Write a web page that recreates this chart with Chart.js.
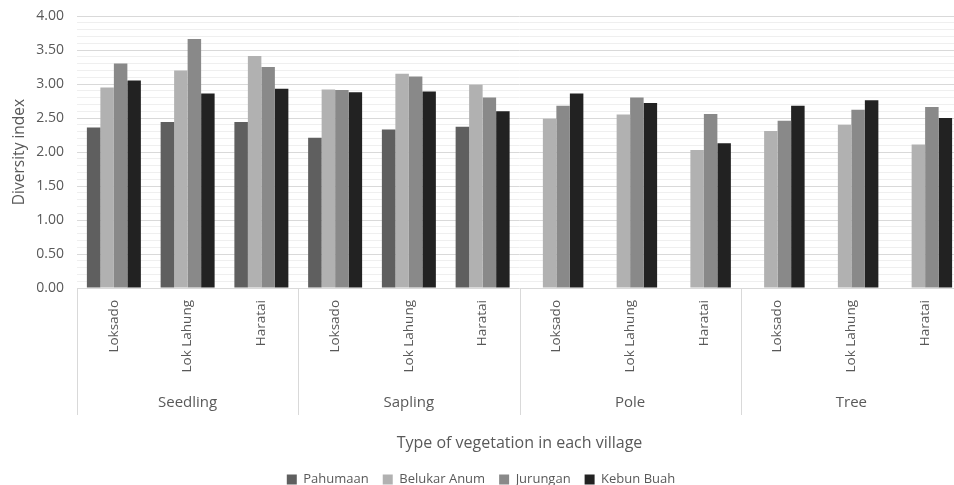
<!DOCTYPE html>
<html>
<head>
<meta charset="utf-8">
<script src="https://cdn.jsdelivr.net/npm/chart.js@4/dist/chart.umd.min.js"></script>
<style>
  html, body { margin: 0; padding: 0; background: #fff; overflow: hidden; }
  #wrap { width: 954px; height: 485px; overflow: hidden; position: relative; }
  canvas { display: block; }
</style>
</head>
<body>
<div id="wrap"><canvas id="c" width="965" height="496"></canvas></div>
<script>
const villages = ['Loksado', 'Lok Lahung', 'Haratai',
                  'Loksado', 'Lok Lahung', 'Haratai',
                  'Loksado', 'Lok Lahung', 'Haratai',
                  'Loksado', 'Lok Lahung', 'Haratai'];
const groups = ['Seedling', 'Sapling', 'Pole', 'Tree'];
const seriesNames = ['Pahumaan', 'Belukar Anum', 'Jurungan', 'Kebun Buah'];
const pahumaan    = [2.36, 2.44, 2.44, 2.21, 2.33, 2.37, null, null, null, null, null, null];
const belukarAnum = [2.95, 3.20, 3.41, 2.92, 3.15, 2.99, 2.49, 2.55, 2.03, 2.31, 2.40, 2.11];
const jurungan    = [3.30, 3.66, 3.25, 2.91, 3.11, 2.80, 2.68, 2.80, 2.56, 2.46, 2.62, 2.66];
const kebunBuah   = [3.05, 2.86, 2.93, 2.88, 2.89, 2.60, 2.86, 2.72, 2.13, 2.68, 2.76, 2.50];
const colors = ['#5f5f5f', '#b1b1b1', '#898989', '#222222'];

const textColor = '#595959';
const fontFam = '"Open Sans", "Noto Sans", sans-serif';

const separatorPlugin = {
  id: 'groupSeparators',
  afterDraw(chart) {
    const xs = chart.scales.x, x2 = chart.scales.x2;
    const ctx = chart.ctx;
    const n = xs.getLabels().length;
    const cw = (xs.getPixelForValue(1) - xs.getPixelForValue(0));
    const per = n / groups.length;
    ctx.save();
    ctx.strokeStyle = '#d9d9d9';
    ctx.lineWidth = 1;
    for (let g = 0; g <= groups.length; g++) {
      const idx = g * per;
      let px = idx < n ? xs.getPixelForValue(idx) - cw / 2 : xs.getPixelForValue(n - 1) + cw / 2;
      px = Math.round(px) + 0.5;
      ctx.beginPath();
      ctx.moveTo(px, xs.top);
      ctx.lineTo(px, x2.top + 33);
      ctx.stroke();
    }
    ctx.restore();
  }
};

new Chart(document.getElementById('c'), {
  type: 'bar',
  data: {
    labels: villages,
    datasets: [
      { label: seriesNames[0], data: pahumaan, backgroundColor: colors[0] },
      { label: seriesNames[1], data: belukarAnum, backgroundColor: colors[1] },
      { label: seriesNames[2], data: jurungan, backgroundColor: colors[2] },
      { label: seriesNames[3], data: kebunBuah, backgroundColor: colors[3] }
    ]
  },
  options: {
    responsive: false,
    animation: false,
    events: [],
    layout: { padding: { top: 16, right: 3, left: 0, bottom: 0 } },
    datasets: { bar: { categoryPercentage: 0.732, barPercentage: 1.0 } },
    plugins: {
      tooltip: { enabled: false },
      legend: {
        position: 'bottom',
        labels: {
          color: textColor,
          font: { family: fontFam, size: 13 },
          boxWidth: 10,
          boxHeight: 10,
          padding: 14
        }
      }
    },
    scales: {
      x: {
        type: 'category',
        position: 'bottom',
        weight: 0,
        grid: { display: false },
        border: { display: false },
        ticks: {
          color: textColor,
          font: { family: fontFam, size: 13.5 },
          minRotation: 90,
          maxRotation: 90,
          autoSkip: false,
          padding: 4
        },
        afterFit(scale) { scale.height = 94; }
      },
      x2: {
        type: 'category',
        position: 'bottom',
        weight: 1,
        labels: groups,
        offset: true,
        grid: { display: false },
        border: { display: false },
        ticks: {
          color: textColor,
          font: { family: fontFam, size: 15 },
          maxRotation: 0,
          padding: 4
        },
        title: {
          display: true,
          text: 'Type of vegetation in each village',
          color: textColor,
          font: { family: fontFam, size: 16 },
          padding: { top: 0, bottom: 6.4 }
        },
        afterFit(scale) { scale.height = 77; }
      },
      y: {
        min: 0,
        max: 4,
        border: { display: false },
        grid: {
          drawTicks: false,
          color(ctx) {
            const v = ctx.tick ? ctx.tick.value : 0;
            return Math.round(v * 10) % 5 === 0 ? '#d9d9d9' : '#efefef';
          }
        },
        ticks: {
          stepSize: 0.1,
          autoSkip: false,
          color: textColor,
          font: { family: fontFam, size: 14 },
          padding: 13,
          callback(v) {
            return Math.round(v * 10) % 5 === 0 ? Number(v).toFixed(2) : '';
          }
        },
        title: {
          display: true,
          text: 'Diversity index',
          color: textColor,
          font: { family: fontFam, size: 15.5 },
          padding: { top: 10, bottom: 0 }
        },
        afterFit(scale) {
          scale.width = 77;
          scale.paddingTop = 0;
          scale.paddingBottom = 0;
        }
      }
    }
  },
  plugins: [separatorPlugin]
});
</script>
</body>
</html>
